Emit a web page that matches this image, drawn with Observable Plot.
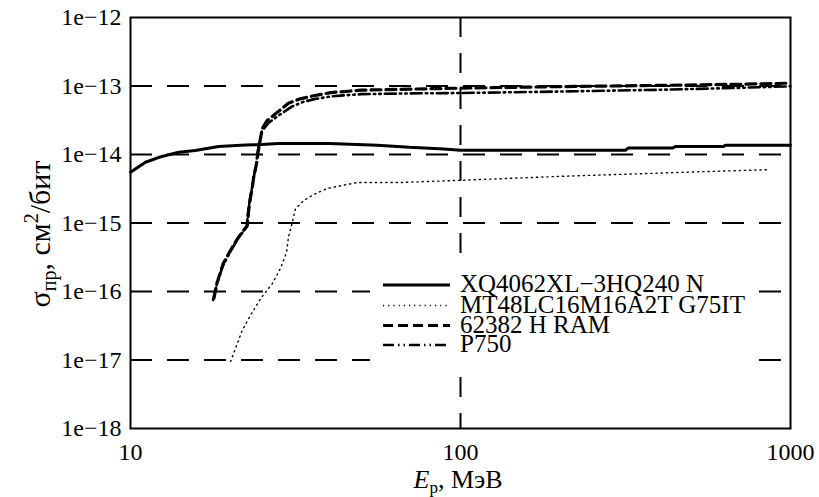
<!DOCTYPE html>
<html><head><meta charset="utf-8">
<script src="https://cdn.jsdelivr.net/npm/d3@7"></script>
<script src="https://cdn.jsdelivr.net/npm/@observablehq/plot@0.6"></script>
<style>body{margin:0;background:#fff}#chart svg{display:block}</style>
</head><body><div id="chart"></div>
<script>
// ---- data ----
const seriesNames = ["XQ4062XL\u22123HQ240 N", "MT48LC16M16A2T G75IT", "62382 H RAM", "P750"];

const xqE = [10, 11.1, 12.2, 14, 15.7, 18.5, 22.3, 25, 28, 40, 56, 70, 89, 100, 316, 322, 440, 448, 627, 635, 1000];
const xqS = [5.5e-15, 7.7e-15, 9.1e-15, 1.08e-14, 1.14e-14, 1.31e-14, 1.38e-14, 1.4e-14, 1.45e-14, 1.45e-14, 1.37e-14, 1.28e-14, 1.2e-14, 1.15e-14, 1.15e-14, 1.24e-14, 1.24e-14, 1.31e-14, 1.31e-14, 1.37e-14, 1.37e-14];

const mtE = [20.1, 20.8, 21.8, 23.1, 24.8, 26.9, 28.5, 29.7, 30.1, 30.9, 31.6, 33.4, 35.9, 39.5, 48.7, 65.8, 100, 201, 533, 857];
const mtS = [9.5e-18, 1.47e-17, 2.7e-17, 4.5e-17, 7.9e-17, 1.3e-16, 2.2e-16, 3.7e-16, 6.2e-16, 1e-15, 1.6e-15, 2.1e-15, 2.6e-15, 3.2e-15, 3.9e-15, 3.9e-15, 4.2e-15, 4.8e-15, 5.6e-15, 6e-15];

const ramE = [17.9, 18.3, 19.1, 20.1, 21.2, 22.6, 22.8, 23.1, 23.4, 23.6, 24.1, 24.4, 24.8, 25.1, 25.9, 27.8, 30.1, 32.7, 35.9, 40.4, 50, 70, 100, 200, 400, 700, 1000];
const ramS = [8e-17, 1.35e-16, 2.56e-16, 4e-16, 6.1e-16, 9.2e-16, 1.52e-15, 2.36e-15, 3.3e-15, 4.6e-15, 7.4e-15, 1.14e-14, 1.77e-14, 2.4e-14, 3.1e-14, 4.1e-14, 5.6e-14, 6.5e-14, 7.2e-14, 8e-14, 8.7e-14, 9e-14, 9.3e-14, 9.8e-14, 1.02e-13, 1.06e-13, 1.1e-13];

const p750E = [17.8, 18.2, 19.0, 20.0, 21.1, 22.5, 22.7, 23.0, 23.3, 23.6, 24.0, 24.3, 24.7, 25.0, 26.2, 28.3, 30.8, 33.5, 36.5, 41, 50, 70, 100, 200, 400, 700, 1000];
const p750S = [7.5e-17, 1.2e-16, 2.3e-16, 3.7e-16, 5.8e-16, 8.8e-16, 1.45e-15, 2.2e-15, 3.1e-15, 4.4e-15, 7e-15, 1.1e-14, 1.7e-14, 2.2e-14, 2.9e-14, 3.8e-14, 5e-14, 5.9e-14, 6.5e-14, 7.1e-14, 7.6e-14, 7.8e-14, 7.9e-14, 8.3e-14, 8.8e-14, 9.4e-14, 9.9e-14];

const xTicks = [10, 100, 1000];
const yTicks = [1e-18, 1e-17, 1e-16, 1e-15, 1e-14, 1e-13, 1e-12];
const yGrid = [1e-17, 1e-16, 1e-15, 1e-14, 1e-13];
const xGrid = [100];

// ---- styles (kept separate) ----
const styles = [
  {strokeWidth: 3, dash: null},
  {strokeWidth: 1.4, dash: "1.2,4"},
  {strokeWidth: 3.2, dash: "10,5"},
  {strokeWidth: 2.6, dash: "11,4,1.5,4,1.5,4"}
];

const raw = [[xqE, xqS], [mtE, mtS], [ramE, ramS], [p750E, p750S]];
const series = raw.map(([E, S], i) => E.map((e, j) => ({E: e, S: S[j], name: seriesNames[i]})));

const FONT = "'Liberation Serif', 'Times New Roman', serif";

const chart = Plot.plot({
  width: 819, height: 497,
  marginLeft: 130, marginRight: 29, marginTop: 17, marginBottom: 69,
  style: {fontFamily: FONT, fontSize: "24px", color: "black", background: "white"},
  x: {type: "log", domain: [10, 1000]},
  y: {type: "log", domain: [1e-18, 1e-12]},
  marks: [
    Plot.ruleY(yGrid, {y: d => d, stroke: "black", strokeWidth: 2, strokeDasharray: "22,15"}),
    Plot.ruleX(xGrid, {x: d => d, stroke: "black", strokeWidth: 2, strokeDasharray: "20,16"}),
    ...series.map((data, i) => Plot.line(data, {
      x: "E", y: "S", stroke: "black",
      strokeWidth: styles[i].strokeWidth,
      strokeDasharray: styles[i].dash,
      strokeLinejoin: "miter"
    })),
    Plot.frame({stroke: "black", strokeWidth: 2}),
    Plot.axisX(xTicks, {tickSize: 0, tickPadding: 14, tickFormat: d => String(d), label: null}),
    Plot.axisY(yTicks, {tickSize: 0, tickPadding: 9, tickFormat: d => "1e\u2212" + Math.round(-Math.log10(d)), label: null})
  ]
});
document.getElementById("chart").appendChild(chart);

// ---- legend and axis titles ----
const svg = d3.select(chart);
const lg = svg.append("g").attr("font-family", FONT).attr("font-size", 25).attr("text-anchor", "start");
lg.append("rect").attr("x", 370).attr("y", 263).attr("width", 388).attr("height", 101).attr("fill", "white");
const rowY = [285, 305.5, 325.5, 345];
seriesNames.forEach((name, i) => {
  lg.append("line").attr("x1", 383).attr("x2", 450).attr("y1", rowY[i]).attr("y2", rowY[i])
    .attr("stroke", "black").attr("stroke-width", styles[i].strokeWidth)
    .attr("stroke-dasharray", styles[i].dash);
  lg.append("text").attr("x", 460).attr("y", rowY[i] + 7).attr("text-anchor", "start").text(name);
});

// x title
const xt = svg.append("text").attr("x", 458).attr("y", 488).attr("text-anchor", "middle")
  .attr("font-family", FONT).attr("font-size", 26);
xt.append("tspan").attr("font-style", "italic").text("E");
xt.append("tspan").attr("font-size", 17).attr("dy", 5).text("p");
xt.append("tspan").attr("dy", -5).text(", МэВ");

// y title
const yt = svg.append("text").attr("transform", "translate(50,234) rotate(-90)").attr("text-anchor", "middle")
  .attr("font-family", FONT).attr("font-size", 30);
yt.append("tspan").text("σ");
yt.append("tspan").attr("font-size", 20).attr("dy", 6).text("пр");
yt.append("tspan").attr("dy", -6).text(", см");
yt.append("tspan").attr("font-size", 20).attr("dy", -12).text("2");
yt.append("tspan").attr("dy", 12).text("/бит");
</script>
</body></html>
